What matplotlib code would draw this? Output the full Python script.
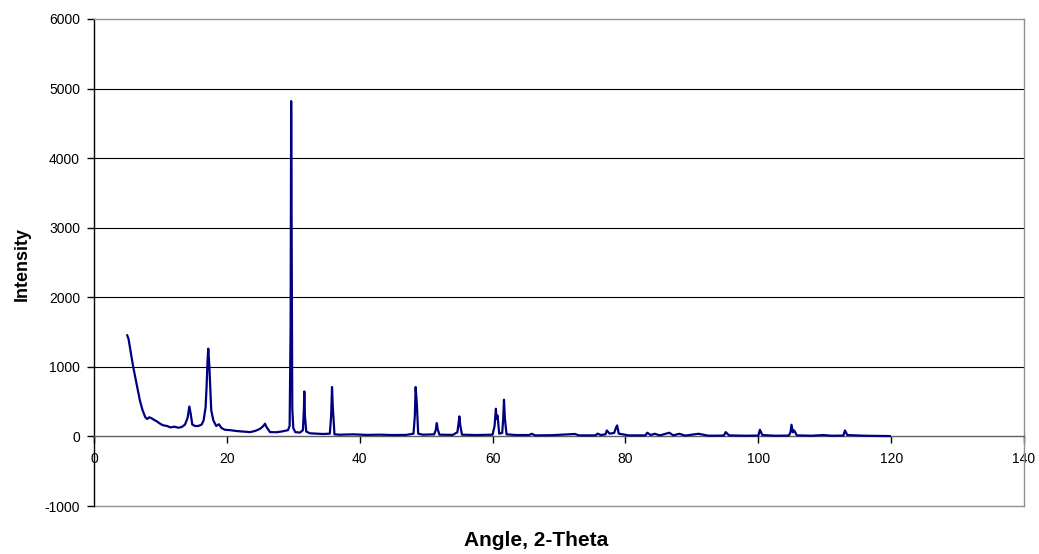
import matplotlib.pyplot as plt

plt.rcParams['font.family'] = ['Liberation Sans', 'DejaVu Sans']
plt.rcParams['axes.unicode_minus'] = False

# XRD pattern
angle = [5.0, 5.2, 5.5, 5.9, 6.4, 6.9, 7.3, 7.7, 8.0, 8.3, 8.7, 9.0, 9.4,
         10.0, 10.4, 11.0, 11.5, 12.1, 12.7, 13.2, 13.7, 14.1, 14.35, 14.55,
         14.8, 15.2, 15.7, 16.2, 16.5, 16.8, 16.95, 17.1, 17.2, 17.36, 17.5,
         17.65, 17.97, 18.4, 18.8, 19.2, 19.7, 20.5, 21.5, 22.5, 23.5, 24.3,
         25.0, 25.5, 25.74, 26.0, 26.5, 27.5, 28.5, 29.2, 29.45, 29.6, 29.68,
         29.75, 29.85, 30.0, 30.3, 31.0, 31.45, 31.6, 31.66, 31.75, 31.95,
         32.5, 33.5, 34.5, 35.5, 35.7, 35.83, 35.95, 36.2, 37.0, 39.0, 41.0,
         43.0, 45.0, 47.0, 48.1, 48.3, 48.42, 48.6, 48.8, 49.5, 51.2, 51.45,
         51.6, 51.75, 52.0, 54.0, 54.7, 54.9, 55.0, 55.15, 55.4, 57.5, 60.0,
         60.3, 60.5, 60.6, 60.75, 61.0, 61.45, 61.6, 61.72, 61.85, 62.1, 63.5,
         65.5, 65.9, 66.4, 69.0, 72.4, 73.0, 75.5, 75.8, 76.3, 77.0, 77.2,
         77.6, 78.3, 78.6, 78.75, 79.0, 80.5, 83.0, 83.3, 83.8, 84.4, 85.2,
         86.6, 87.2, 88.1, 89.0, 91.0, 92.5, 94.8, 95.1, 95.6, 98.0, 100.0,
         100.25, 100.6, 102.5, 104.6, 104.85, 105.0, 105.2, 105.4, 105.8,
         108.0, 109.8, 111.0, 112.8, 113.05, 113.4, 116.0, 119.8]
intensity = [1453, 1400, 1230, 1000, 760, 520, 380, 280, 250, 275, 260, 240,
             220, 180, 160, 150, 130, 140, 125, 135, 170, 270, 430, 330,
             170, 150, 150, 170, 230, 420, 720, 1100, 1262, 1020, 700,
             374, 230, 150, 175, 120, 96, 90, 77, 70, 62, 80,
             110, 150, 183, 130, 62, 60, 75, 90, 150, 1600, 4820,
             2950, 400, 120, 62, 55, 90, 400, 647, 300, 70,
             45, 40, 35, 40, 300, 710, 420, 30, 25, 30, 22,
             25, 20, 22, 40, 300, 710, 470, 40, 25, 30, 90,
             192, 100, 25, 22, 60, 200, 288, 150, 25, 20, 25,
             150, 398, 250, 300, 40, 50, 250, 528, 260, 30, 20,
             20, 38, 15, 18, 35, 15, 15, 40, 20, 30, 86,
             40, 50, 130, 158, 40, 15, 15, 53, 20, 38, 15,
             53, 15, 38, 12, 38, 10, 12, 62, 15, 10, 12,
             96, 20, 10, 12, 60, 168, 60, 86, 15,
             10, 20, 10, 12, 86, 20, 10, 5]

x_ticks = [0, 20, 40, 60, 80, 100, 120, 140]
y_ticks = [-1000, 0, 1000, 2000, 3000, 4000, 5000, 6000]

fig = plt.figure(figsize=(10.39, 5.54), dpi=100)
ax = fig.add_axes([94 / 1039, 48 / 554, 930 / 1039, 487 / 554])

ax.plot(angle, intensity, color='#000080', linewidth=1.6, zorder=3)

ax.set_xlim(0, 140)
ax.set_ylim(-1000, 6000)
ax.set_xticks(x_ticks)
ax.set_yticks(y_ticks)

# gridlines (black) between the grey plot-area border
for v in [1000, 2000, 3000, 4000, 5000]:
    ax.axhline(v, color='black', linewidth=0.8, zorder=1)

ax.spines['bottom'].set_position(('data', 0))
ax.spines['bottom'].set_color('#606060')
ax.spines['bottom'].set_linewidth(1.0)
ax.spines['left'].set_color('black')
ax.spines['left'].set_linewidth(1.0)
for s in ['top', 'right']:
    ax.spines[s].set_color('#909090')
    ax.spines[s].set_linewidth(1.0)
ax.axhline(-1000, color='#909090', linewidth=1.0, clip_on=False, zorder=2)

ax.tick_params(axis='x', direction='out', length=5, width=1, pad=6,
               labelsize=10, color='black')
ax.tick_params(axis='y', direction='out', length=5, width=1, pad=5,
               labelsize=10, color='black')

fig.text(22 / 1039, 1 - 264 / 554, 'Intensity', rotation=90, fontsize=13,
         fontweight='bold', ha='center', va='center')
fig.text(536 / 1039, 1 - 541 / 554, 'Angle, 2-Theta', fontsize=15,
         fontweight='bold', ha='center', va='center')

fig.savefig('out.png', dpi=100)
